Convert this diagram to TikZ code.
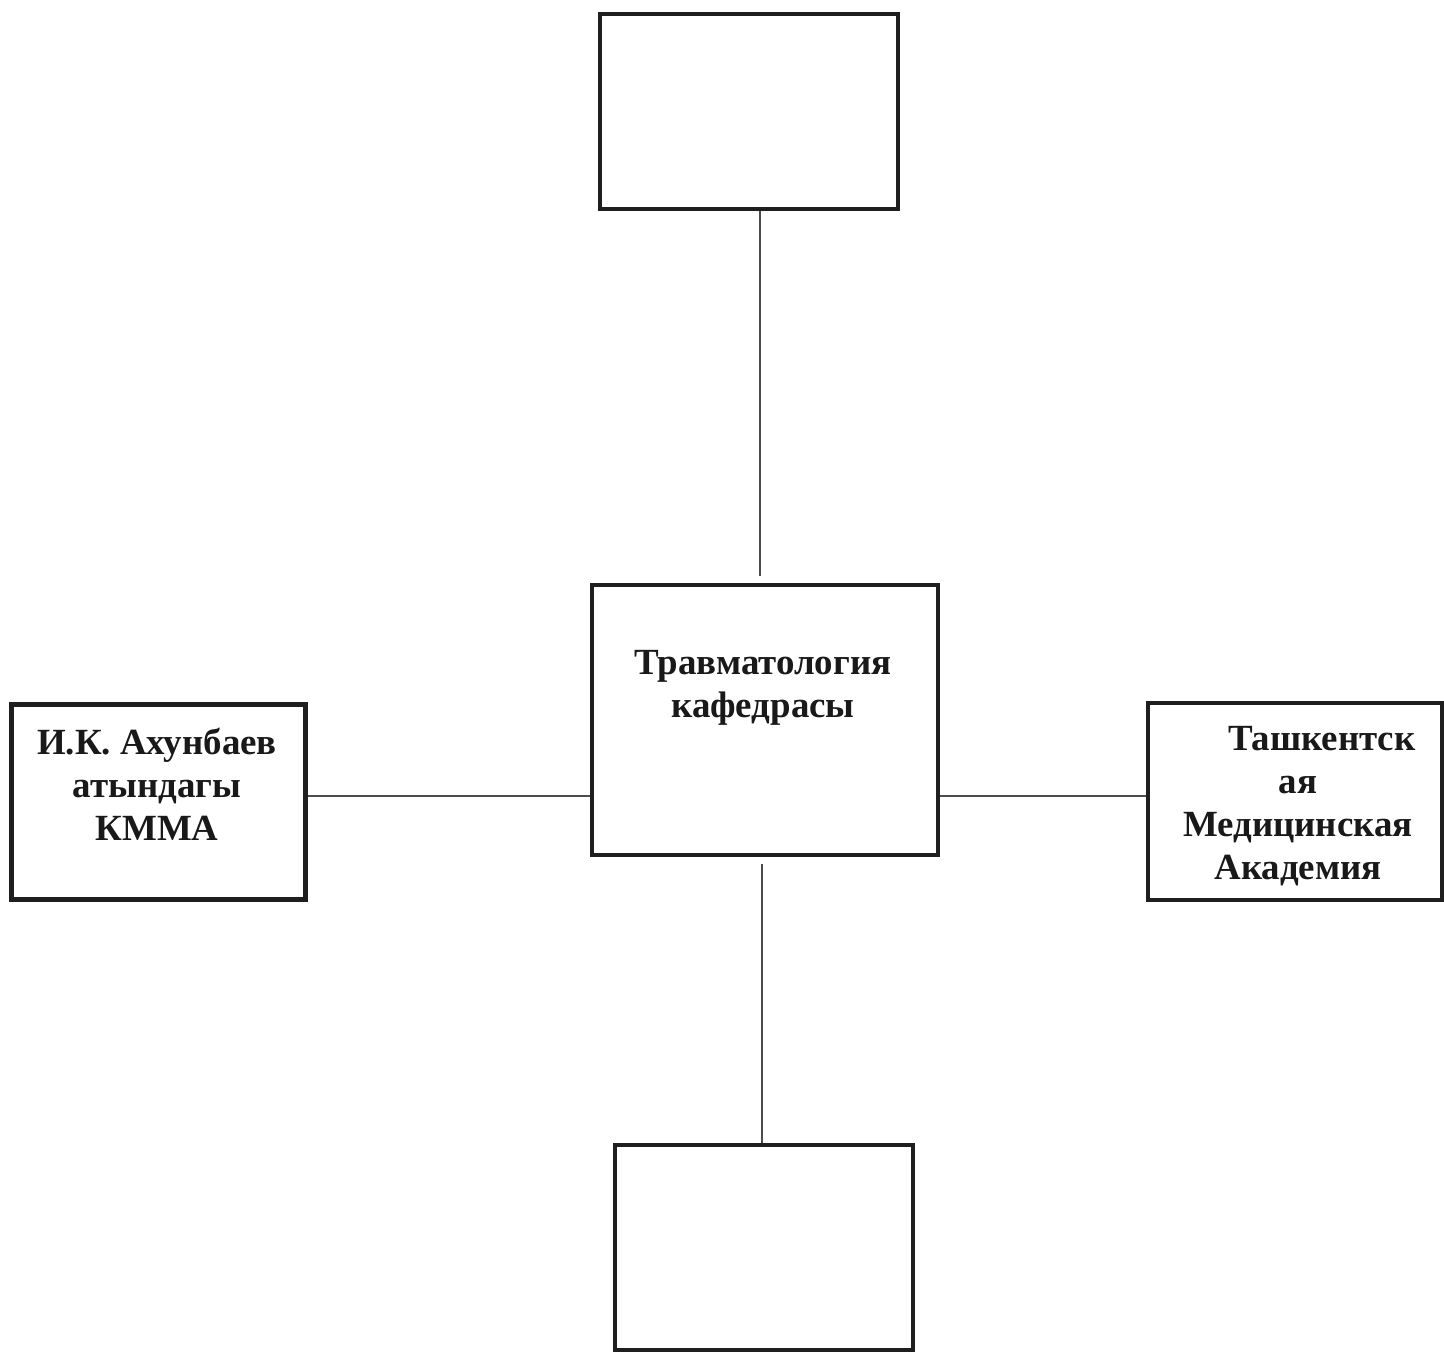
\documentclass[tikz,border=0pt]{standalone}
\usepackage{fontspec}
\setmainfont{Liberation Serif}
\begin{document}
\begin{tikzpicture}[x=0.02cm,y=-0.02cm,
  box/.style={draw=black!88,line width=2.4pt,minimum width=5.96cm,minimum height=3.9cm,inner sep=0pt},
  lbl/.style={font=\bfseries\fontsize{21}{24.5}\selectfont,text=black!90,align=center,inner sep=0pt},
  link/.style={draw=black!70,line width=1pt}]
  \useasboundingbox[fill=white] (0,0) rectangle (1444,1353);

  \node[box] (upbox) at (749,111.5) {};
  \node[box,minimum width=6.92cm,minimum height=5.4cm] (kaf) at (765,720) {};
  \node[box,minimum width=5.88cm] (akhun) at (158.5,802) {};
  \node[box,minimum width=5.88cm,minimum height=3.94cm] (tashma) at (1295,801.5) {};
  \node[box,minimum height=4.1cm] (downbox) at (764,1247.5) {};

  \node[lbl] (kaftxt) at (763,688) {Травматология\\кафедрасы};
  \node[lbl] (akhuntxt) at (157,784) {И.К. Ахунбаев\\атындагы\\КММА};
  \node[lbl] (tashtxt) at (1298,806) {\hspace*{0.95cm}Ташкентск\\ая\\Медицинская\\Академия};

  \coordinate (mid) at (765,796);
  \draw[link] ([shift={(-0.1cm,0.14cm)}]kaf.north) -- ([xshift=-0.1cm]kaf.north |- upbox.south);
  \draw[link] ([shift={(-0.06cm,-0.14cm)}]kaf.south) -- ([xshift=-0.06cm]kaf.south |- downbox.north);
  \draw[link] (akhun.east |- mid) -- (kaf.west |- mid);
  \draw[link] (kaf.east |- mid) -- (tashma.west |- mid);
 \end{tikzpicture}
\end{document}
